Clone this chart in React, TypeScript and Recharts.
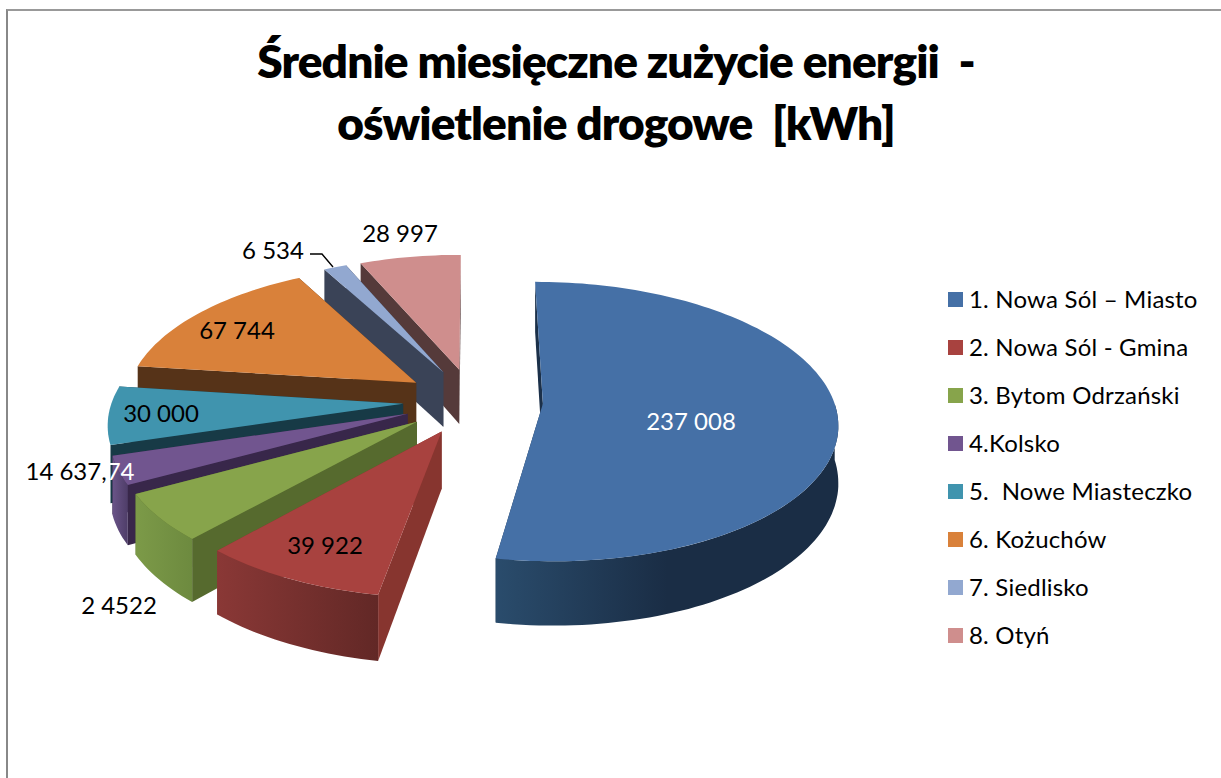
import React from "react";
import { PieChart, Pie, Legend } from "recharts";

const names = [
  "1. Nowa Sól – Miasto",
  "2. Nowa Sól - Gmina",
  "3. Bytom Odrzański",
  "4.Kolsko",
  "5.  Nowe Miasteczko",
  "6. Kożuchów",
  "7. Siedlisko",
  "8. Otyń",
];
const values = [237008, 39922, 24522, 14637.74, 30000, 67744, 6534, 28997];
const valueLabels = ["237 008", "39 922", "2 4522", "14 637,74", "30 000", "67 744", "6 534", "28 997"];

const topColors = ["#4570a6", "#a8423f", "#87a44b", "#71558f", "#4094ae", "#d9813a", "#92a8d0", "#cf8e8d"];
const sideColors = ["#1b3049", "#87352f", "#566a2e", "#38274a", "#173a46", "#563318", "#3a4357", "#553a3a"];
const wallFrom = ["#2a4c6c", "#8a3836", "#7c9a48", "#6a5488", "#2a6a80", "#8a5226", "#5d6f8e", "#8a5f5f"];
const wallTo = ["#1a2d45", "#622826", "#6d8a3f", "#4e3d68", "#1f5163", "#6e3f1c", "#4a5a74", "#6e4b4b"];
const labelColors = ["#ffffff", "#000000", "#000000", "#000000", "#000000", "#000000", "#000000", "#000000"];
const labelAt = [
  [691, 420],
  [325, 544],
  [119, 604],
  [80, 470],
  [161, 412],
  [237, 329],
  [273, 249],
  [400, 232],
];

const W = 1221;
const H = 778;
const CX = 473;
const CY = 401;
const RADIUS = 291;
const EXPLODE = 70;
const TILT = 0.47;
const DEPTH = 2300;
const THICK = 56;
const FONT = "Lato, 'Open Sans', sans-serif";
const RAD = Math.PI / 180;

// reversed + counter-clockwise: back slices get painted first, blue last
const table = names
  .map((name, i) => ({ name, value: values[i], fill: topColors[i] }))
  .reverse();

function project(x: number, z: number, cx: number, cy: number, down = 0) {
  const s = DEPTH / (DEPTH - z);
  return [cx + x * s, cy + TILT * z * s + down * s];
}

function toPath(points: number[][]) {
  return "M" + points.map((p) => p[0].toFixed(1) + "," + p[1].toFixed(1)).join("L") + "Z";
}

function Slice3D(props: any) {
  const { cx, cy, outerRadius, startAngle, endAngle, midAngle, name } = props;
  const i = names.indexOf(name);
  const ox = EXPLODE * Math.cos(midAngle * RAD);
  const oz = -EXPLODE * Math.sin(midAngle * RAD);

  const rim = (from: number, to: number, down: number) => {
    const pts: number[][] = [];
    const steps = Math.max(2, Math.ceil((to - from) / 1.5));
    for (let n = 0; n <= steps; n++) {
      const a = (from + ((to - from) * n) / steps) * RAD;
      pts.push(project(ox + outerRadius * Math.cos(a), oz - outerRadius * Math.sin(a), cx, cy, down));
    }
    return pts;
  };
  const apex = project(ox, oz, cx, cy);
  const apexLow = project(ox, oz, cx, cy, THICK);
  const top = rim(startAngle, endAngle, 0);
  const low = rim(startAngle, endAngle, THICK);
  const last = top.length - 1;
  // outer wall only where the disc faces the viewer (the teal slice shows none)
  const frontFrom = Math.max(startAngle, 197);
  const frontTo = Math.min(endAngle, 360);

  return (
    <g>
      <path d={toPath([apex, top[0], low[0], apexLow])} fill={sideColors[i]} />
      <path d={toPath([apex, top[last], low[last], apexLow])} fill={sideColors[i]} />
      {frontTo > frontFrom && (
        <path
          d={toPath([...rim(frontFrom, frontTo, 0), ...rim(frontFrom, frontTo, THICK).reverse()])}
          fill={`url(#wall${i})`}
        />
      )}
      <path d={toPath([apex, ...top])} fill={topColors[i]} />
    </g>
  );
}

function SliceLabel(props: any) {
  const i = names.indexOf(props.name);
  const [x, y] = labelAt[i];
  const text = valueLabels[i];
  const common = { x, y, textAnchor: "middle" as const, dominantBaseline: "central" as const, fontFamily: FONT, fontSize: 24 };
  if (text === "14 637,74") {
    return (
      <text {...common} fill="#000000">
        14 637,<tspan fill="#ffffff">74</tspan>
      </text>
    );
  }
  return (
    <g>
      {text === "6 534" && <path d={`M${x + 37},${y + 5}h12l11,13`} fill="none" stroke="#000000" strokeWidth={1.4} />}
      <text {...common} fill={labelColors[i]}>
        {text}
      </text>
    </g>
  );
}

function LegendList({ payload }: any) {
  const items = [...(payload || [])].sort((a: any, b: any) => String(a.value).localeCompare(String(b.value)));
  return (
    <ul style={{ listStyle: "none", margin: 0, padding: 0 }}>
      {items.map((item: any) => (
        <li key={item.value} style={{ height: 48, display: "flex", alignItems: "center", whiteSpace: "pre" }}>
          <span style={{ width: 15, height: 15, background: item.color, marginRight: 6, flex: "none", position: "relative", top: 1 }} />
          <span style={{ fontFamily: FONT, fontSize: 24, letterSpacing: 0.2, color: "#000000" }}>{item.value}</span>
        </li>
      ))}
    </ul>
  );
}

export default function App() {
  return (
    <div style={{ position: "absolute", left: 0, top: 0, width: W, height: H, background: "#ffffff", overflow: "hidden" }}>
      <div style={{ position: "absolute", left: 6, top: 9, right: 0, bottom: 0, borderTop: "2px solid #999999", borderLeft: "2px solid #888888" }} />
      <PieChart width={W} height={H} margin={{ top: 0, right: 0, bottom: 0, left: 0 }} style={{ position: "absolute", left: 0, top: 0 }}>
        <defs>
          {names.map((n, i) => (
            <linearGradient key={n} id={`wall${i}`} x1="0" y1="0" x2="1" y2="0">
              <stop offset="0%" stopColor={wallFrom[i]} />
              <stop offset={i === 0 ? "50%" : "100%"} stopColor={wallTo[i]} />
              <stop offset="100%" stopColor={wallTo[i]} />
            </linearGradient>
          ))}
        </defs>
        <text x={616} y={78} textAnchor="middle" fontFamily={FONT} fontWeight={800} fontSize={46} letterSpacing={-0.9} fill="#000000" xmlSpace="preserve">
          Średnie miesięczne zużycie energii  -
        </text>
        <text x={616} y={140} textAnchor="middle" fontFamily={FONT} fontWeight={800} fontSize={46} letterSpacing={-0.9} fill="#000000" xmlSpace="preserve">
          oświetlenie drogowe  [kWh]
        </text>
        <Pie
          data={table}
          dataKey="value"
          nameKey="name"
          cx={CX}
          cy={CY}
          innerRadius={0}
          outerRadius={RADIUS}
          startAngle={90}
          endAngle={450}
          stroke="none"
          isAnimationActive={false}
          shape={Slice3D}
          label={SliceLabel}
          labelLine={false}
        />
        <Legend
          content={LegendList}
          layout="vertical"
          wrapperStyle={{ position: "absolute", left: 948, top: 274, width: 270 }}
        />
      </PieChart>
    </div>
  );
}
